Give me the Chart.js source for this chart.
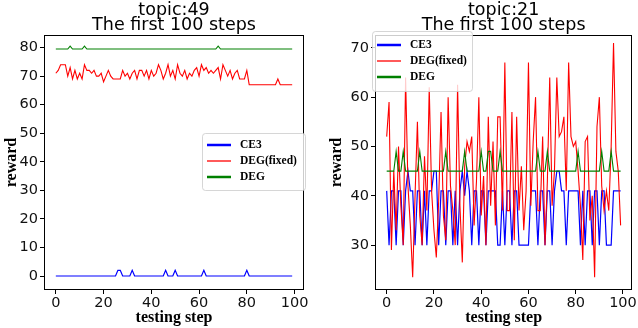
<!DOCTYPE html>
<html lang="en">
<head>
<meta charset="UTF-8" />
<title>topic rewards - first 100 steps</title>
<script src="https://cdn.jsdelivr.net/npm/chart.js"></script>
<style>
  html, body { margin: 0; padding: 0; background: #fff; }
  #wrap { position: relative; width: 638px; height: 328px; overflow: hidden; }
  canvas { position: absolute; top: 0; }
</style>
</head>
<body>
<div id="wrap">
  <canvas id="left" width="320" height="328" style="left:0"></canvas>
  <canvas id="right" width="318" height="328" style="left:320px"></canvas>
</div>
<script>
// testing steps 0..99
const steps = Array.from({ length: 100 }, (_, i) => i);
const seriesNames = ['CE3', 'DEG(fixed)', 'DEG'];
const seriesColors = ['#0000ff', '#ff0000', '#008000'];
const xTicks = [0, 20, 40, 60, 80, 100];

// topic:49
const t49Ce3 = [
  0, 0, 0, 0, 0, 0, 0, 0, 0, 0,
  0, 0, 0, 0, 0, 0, 0, 0, 0, 0,
  0, 0, 0, 0, 0, 0, 2, 2, 0, 0,
  0, 0, 2, 0, 0, 0, 0, 0, 0, 0,
  0, 0, 0, 0, 0, 0, 2, 0, 0, 0,
  2, 0, 0, 0, 0, 0, 0, 0, 0, 0,
  0, 0, 2, 0, 0, 0, 0, 0, 0, 0,
  0, 0, 0, 0, 0, 0, 0, 0, 0, 0,
  2, 0, 0, 0, 0, 0, 0, 0, 0, 0,
  0, 0, 0, 0, 0, 0, 0, 0, 0, 0
];
const t49DegFixed = [
  71, 72, 74, 74, 74, 70, 73, 69, 72, 69,
  71, 69, 74, 72, 72, 71, 72, 70, 70, 71,
  68, 70, 72, 70, 69, 69, 69, 69, 72, 70,
  71, 69, 71, 72, 69, 72, 72, 70, 72, 69,
  72, 70, 71, 74, 72, 69, 71, 74, 70, 72,
  69, 74, 71, 70, 72, 69, 71, 70, 72, 73,
  70, 74, 72, 73, 71, 72, 71, 72, 73, 69,
  74, 72, 70, 72, 69, 71, 72, 69, 69, 69,
  72, 67, 67, 67, 67, 67, 67, 67, 67, 67,
  67, 67, 67, 69, 67, 67, 67, 67, 67, 67
];
const t49Deg = [
  79.5, 79.5, 79.5, 79.5, 79.5, 79.5, 80.5, 79.5, 79.5, 79.5,
  79.5, 79.5, 80.5, 79.5, 79.5, 79.5, 79.5, 79.5, 79.5, 79.5,
  79.5, 79.5, 79.5, 79.5, 79.5, 79.5, 79.5, 79.5, 79.5, 79.5,
  79.5, 79.5, 79.5, 79.5, 79.5, 79.5, 79.5, 79.5, 79.5, 79.5,
  79.5, 79.5, 79.5, 79.5, 79.5, 79.5, 79.5, 79.5, 79.5, 79.5,
  79.5, 79.5, 79.5, 79.5, 79.5, 79.5, 79.5, 79.5, 79.5, 79.5,
  79.5, 79.5, 79.5, 79.5, 79.5, 79.5, 79.5, 79.5, 80.5, 79.5,
  79.5, 79.5, 79.5, 79.5, 79.5, 79.5, 79.5, 79.5, 79.5, 79.5,
  79.5, 79.5, 79.5, 79.5, 79.5, 79.5, 79.5, 79.5, 79.5, 79.5,
  79.5, 79.5, 79.5, 79.5, 79.5, 79.5, 79.5, 79.5, 79.5, 79.5
];
const t49YTicks = [0, 10, 20, 30, 40, 50, 60, 70, 80];

// topic:21
const t21Ce3 = [
  41, 30, 41, 41, 30, 41, 41, 30, 41, 45,
  41, 41, 30, 41, 41, 30, 41, 30, 41, 41,
  45, 45, 30, 41, 41, 30, 41, 41, 30, 41,
  30, 41, 45, 40, 45, 41, 30, 41, 41, 30,
  41, 41, 30, 41, 41, 41, 41, 30, 30, 41,
  30, 41, 41, 30, 41, 41, 30, 30, 30, 30,
  30, 41, 41, 41, 30, 41, 41, 30, 41, 41,
  30, 41, 45, 45, 41, 41, 30, 41, 41, 41,
  41, 41, 30, 41, 30, 41, 41, 30, 41, 41,
  30, 41, 41, 30, 30, 30, 41, 41, 41, 41
];
const t21DegFixed = [
  52, 59, 29, 45, 33, 50, 38, 30, 64, 42,
  34, 23.5, 40, 55, 36, 30, 48, 37, 62, 41,
  33, 27.5, 39, 57, 36, 31, 60, 42, 37, 30,
  62.5, 38, 26.5, 46, 51, 49, 52, 34, 43, 60,
  36, 44, 30, 56, 38, 51, 34, 56, 56, 37,
  67, 37, 37, 57, 31, 56, 37, 46, 33, 41,
  67, 38, 51, 60, 37, 37, 52, 30, 43, 64,
  38, 45, 64, 52, 53, 56, 41, 67, 52, 50,
  51, 45, 38, 27, 51, 52, 35, 40, 23.5, 54,
  60, 42, 37, 41, 37, 50, 71, 49, 45, 34
];
const t21Deg = [
  45, 45, 45, 45, 49, 45, 45, 49, 45, 45,
  45, 45, 45, 45, 49, 45, 45, 45, 45, 45,
  45, 45, 45, 45, 45, 49, 45, 45, 45, 45,
  45, 45, 45, 49, 45, 45, 45, 45, 45, 45,
  49, 45, 45, 49, 49, 45, 45, 45, 49, 45,
  45, 45, 45, 45, 45, 45, 45, 45, 45, 45,
  45, 45, 45, 45, 49, 45, 45, 45, 49, 45,
  45, 45, 45, 45, 45, 45, 45, 45, 45, 45,
  45, 49, 45, 45, 45, 45, 45, 45, 45, 45,
  45, 49, 45, 45, 45, 49, 45, 45, 45, 45
];
const t21YTicks = [30, 40, 50, 60, 70];

const tickFont = { family: 'DejaVu Sans', size: 14.5 };
const labelFont = { family: 'Liberation Serif', size: 16, weight: 'bold' };

// box, two-line title and in-axes legend, drawn like the matplotlib figure
const decoPlugin = {
  id: 'deco',
  afterDatasetsDraw(chart, args, opts) {
    const ctx = chart.ctx;
    const a = chart.chartArea;
    ctx.save();
    ctx.strokeStyle = '#000';
    ctx.lineWidth = 1;
    ctx.strokeRect(Math.round(a.left) + 0.5, Math.round(a.top) + 0.5,
      Math.round(a.right - a.left) - 1, Math.round(a.bottom - a.top) - 1);

    ctx.fillStyle = '#000';
    ctx.font = '17.5px "DejaVu Sans"';
    ctx.textAlign = 'center';
    ctx.textBaseline = 'middle';
    const cx = (a.left + a.right) / 2;
    ctx.fillText(opts.title[0], cx, 10);
    ctx.fillText(opts.title[1], cx, 25);

    const lg = opts.legend;
    ctx.beginPath();
    ctx.roundRect(lg.x + 0.5, lg.y + 0.5, lg.w, lg.h, 3);
    ctx.globalAlpha = 0.8;
    ctx.fillStyle = '#fff';
    ctx.fill();
    ctx.strokeStyle = '#cccccc';
    ctx.stroke();
    ctx.globalAlpha = 1;
    ctx.font = 'bold 11.5px "Liberation Serif"';
    ctx.textAlign = 'left';
    chart.data.datasets.forEach((ds, i) => {
      const y = lg.y + lg.first + i * lg.gap;
      ctx.strokeStyle = ds.borderColor;
      ctx.lineWidth = i === 1 ? 1.3 : 2.5;
      ctx.beginPath();
      ctx.moveTo(lg.x + 5, y);
      ctx.lineTo(lg.x + 29, y);
      ctx.stroke();
      ctx.fillStyle = '#000';
      ctx.fillText(ds.label, lg.x + 38, y + 0.5);
    });
    ctx.restore();
  }
};

function makeChart(id, series, yMin, yMax, yTicks, axisW, padRight, titlePad, title, legend) {
  const widths = [1.2, 1.1, 1.1];
  const order = [3, 2, 1];
  const datasets = series.map((vals, k) => ({
    label: seriesNames[k],
    data: steps.map((s, i) => ({ x: s, y: vals[i] })),
    borderColor: seriesColors[k],
    borderWidth: widths[k],
    pointRadius: 0,
    tension: 0,
    order: order[k]
  }));
  return new Chart(document.getElementById(id), {
    type: 'line',
    data: { datasets },
    options: {
      responsive: false,
      animation: false,
      devicePixelRatio: 1,
      layout: { padding: { left: 0, right: padRight, top: 35, bottom: 0 } },
      plugins: {
        legend: { display: false },
        tooltip: { enabled: false },
        deco: { title, legend }
      },
      scales: {
        x: {
          type: 'linear',
          min: -4.95,
          max: 103.95,
          afterBuildTicks: s => { s.ticks = xTicks.map(v => ({ value: v })); },
          afterFit: s => { s.height = 38; },
          grid: { drawOnChartArea: false, drawTicks: true, tickLength: 4, tickColor: '#000' },
          border: { display: false },
          ticks: { color: '#111', font: tickFont, padding: 1, maxRotation: 0 },
          title: { display: true, text: 'testing step', color: '#000', font: labelFont, padding: { top: 0, bottom: 1 } }
        },
        y: {
          min: yMin,
          max: yMax,
          afterBuildTicks: s => { s.ticks = yTicks.map(v => ({ value: v })); },
          afterFit: s => { s.width = axisW; },
          grid: { drawOnChartArea: false, drawTicks: true, tickLength: 4, tickColor: '#000' },
          border: { display: false },
          ticks: { color: '#111', font: tickFont, padding: 2 },
          title: { display: true, text: 'reward', color: '#000', font: labelFont, padding: { top: titlePad, bottom: 0 } }
        }
      }
    },
    plugins: [decoPlugin]
  });
}

makeChart('left', [t49Ce3, t49DegFixed, t49Deg], -4.9, 84.4, t49YTicks, 44, 16, 2,
  ['topic:49', 'The first 100 steps'],
  { x: 202, y: 133, w: 103, h: 57, first: 12, gap: 16 });

makeChart('right', [t21Ce3, t21DegFixed, t21Deg], 20.9, 72.6, t21YTicks, 55, 5, 7,
  ['topic:21', 'The first 100 steps'],
  { x: 52, y: 31, w: 100, h: 60, first: 14, gap: 16 });
</script>
</body>
</html>
